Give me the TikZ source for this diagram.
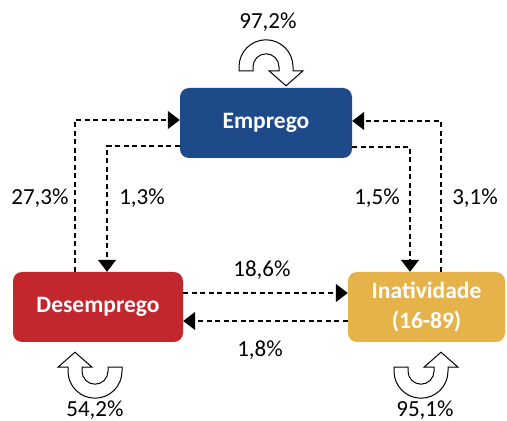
\documentclass[tikz,border=0pt]{standalone}
\usepackage{fontspec}
\setmainfont{Carlito}
\usetikzlibrary{arrows.meta,positioning}
\definecolor{empblue}{RGB}{31,74,138}
\definecolor{desred}{RGB}{193,39,45}
\definecolor{inagold}{RGB}{230,179,74}

\begin{document}
\begin{tikzpicture}[x=1pt,y=1pt,
  state/.style={rounded corners=9pt,minimum height=70pt,text=white,align=center,
    font=\fontsize{23.5}{30}\selectfont\bfseries},
  flow/.style={dash pattern=on 5pt off 3.5pt,line width=1.2pt,
    -{Triangle[length=12pt,width=18pt]}},
  pct/.style={font=\fontsize{23}{26}\selectfont},
  uturn/.pic={
    \filldraw[fill=white,draw=black,line width=1pt,line join=miter]
      (-27,-4) -- (-27,0) arc[start angle=180,end angle=0,radius=27]
      -- (27,-4) -- (37,-4) -- (20,-19) -- (3,-4) -- (13,-4) -- (13,0)
      arc[start angle=0,end angle=180,radius=13] -- (-13,-4) -- cycle;
  }]
  \useasboundingbox (0,0) rectangle (507,421);

  % the three states
  \node[state,fill=empblue,minimum width=172pt] (emprego) at (266,298) {Emprego};
  \node[state,fill=desred,minimum width=170pt] (desemprego) at (98,114) {Desemprego};
  \node[state,fill=inagold,minimum width=157pt] (inatividade) at (426.5,114) {Inatividade\\(16-89)};

  % flows between states
  \draw[flow] ([xshift=-23pt]desemprego.north) |- ([yshift=3pt]emprego.west);
  \draw[flow] ([yshift=-23pt]emprego.west) -| ([xshift=9pt]desemprego.north);
  \draw[flow] ([yshift=-24pt]emprego.east) -| ([xshift=-16.5pt]inatividade.north);
  \draw[flow] ([xshift=14.5pt]inatividade.north) |- ([yshift=2pt]emprego.east);
  \draw[flow] ([yshift=14pt]desemprego.east) -- ([yshift=14pt]inatividade.west);
  \draw[flow] ([yshift=-14pt]inatividade.west) -- ([yshift=-14pt]desemprego.east);

  % staying in the same state
  \pic at ([yshift=21pt]emprego.north) {uturn};
  \pic[rotate=180] at ([xshift=-3pt,yshift=-29pt]desemprego.south) {uturn};
  \pic[yscale=-1] at ([xshift=-5.5pt,yshift=-29pt]inatividade.south) {uturn};

  % rates
  \node[pct] (p273) at (40,223) {27,3\%};
  \node[pct] (p13) at (142,223) {1,3\%};
  \node[pct] (p15) at (377,223) {1,5\%};
  \node[pct] (p31) at (475,223) {3,1\%};
  \node[pct] (p186) at (262,151) {18,6\%};
  \node[pct] (p18) at (260,71) {1,8\%};
  \node[pct] (p972) at (268,399) {97,2\%};
  \node[pct] (p542) at (95,11) {54,2\%};
  \node[pct] (p951) at (425,11) {95,1\%};
\end{tikzpicture}
\end{document}
